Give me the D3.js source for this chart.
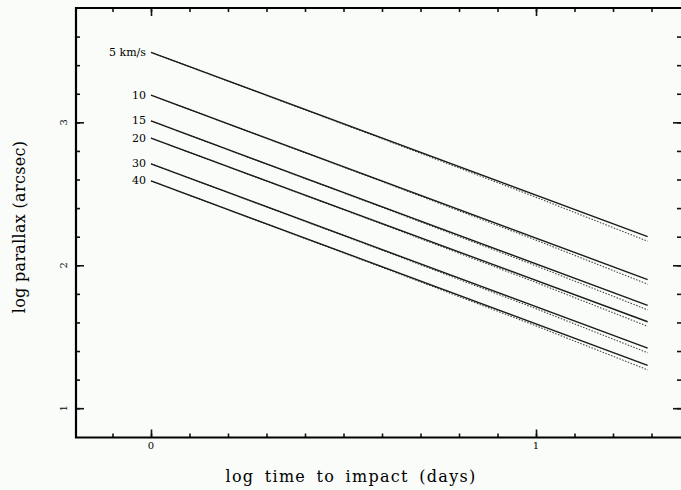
<!DOCTYPE html>
<head>
    <title>log parallax vs log time to impact</title>
    <script src="https://d3js.org/d3.v7.min.js"></script>
</head>
<style>
body {
  margin: 0;
  background: #f9fcf9;
  font-family: "DejaVu Serif", "Liberation Serif", serif;
}
</style>
<body>
    <svg></svg>
</body>

<script>

    // Data
    var speeds = ["5 km/s", "10", "15", "20", "30", "40"];
    var tStart = 0, tEnd = 1.29;
    // solid lines: log parallax at start and end
    var solidStart = [3.49, 3.19, 3.01, 2.89, 2.71, 2.59];
    var solidEnd   = [2.20, 1.90, 1.72, 1.605, 1.42, 1.30];
    // dotted companions: they sag a little below the solid ones to the right
    var dottedT    = [0, 0.6, 1.0, 1.29];
    var dottedDrop = [0, 0.004, 0.014, 0.032];
    var xMajor = [0, 1];
    var xTickLabels = ["0", "1"];
    var yMajor = [1, 2, 3];
    var yTickLabels = ["1", "2", "3"];

    // Variables
    var width = 681;
    var height = 490;

    var svg = d3.select('svg')
        .attr('width', width)
        .attr('height', height);

    var x = d3.scaleLinear().domain([-0.1948, 1.3766]).range([76, 681]);
    var y = d3.scaleLinear().domain([0.795, 3.8]).range([437.5, 8]);

    var xMinor = d3.range(-1, 14).map(function (i) { return i / 10; });
    var yMinor = d3.range(5, 19).map(function (i) { return i / 5; });

    // Minor and major ticks on every side, pointing inwards
    function drawAxis(axis, tr, minor, major) {
        var gm = svg.append('g').attr('transform', tr)
            .call(axis.tickValues(minor).tickSizeInner(-4).tickSizeOuter(0).tickFormat(''));
        var gM = svg.append('g').attr('transform', tr)
            .call(axis.tickValues(major).tickSizeInner(-8).tickSizeOuter(0).tickFormat(''));
        [gm, gM].forEach(function (g) {
            g.select('.domain').remove();
            g.selectAll('line').attr('stroke', '#111').attr('stroke-width', 1.6);
        });
    }
    drawAxis(d3.axisBottom(x), 'translate(0,437.5)', xMinor, xMajor);
    drawAxis(d3.axisTop(x), 'translate(0,8)', xMinor, xMajor);
    drawAxis(d3.axisLeft(y), 'translate(76,0)', yMinor, yMajor);
    drawAxis(d3.axisRight(y), 'translate(681,0)', yMinor, yMajor);

    // Frame
    svg.append('path')
        .attr('d', 'M681,8H76V437.5H681')
        .attr('fill', 'none')
        .attr('stroke', '#000')
        .attr('stroke-width', 2.2);

    // Tick labels
    svg.selectAll('.xlab').data(xMajor).enter().append('text')
        .attr('x', function (d) { return x(d); })
        .attr('y', 449)
        .attr('text-anchor', 'middle')
        .style('font-size', '10px')
        .text(function (d, i) { return xTickLabels[i]; });

    svg.selectAll('.ylab').data(yMajor).enter().append('text')
        .attr('transform', function (d) { return 'translate(67,' + y(d) + ')rotate(-90)'; })
        .attr('text-anchor', 'middle')
        .style('font-size', '10px')
        .text(function (d, i) { return yTickLabels[i]; });

    // Axis titles
    svg.append('text')
        .attr('x', 351).attr('y', 482)
        .attr('text-anchor', 'middle')
        .style('font-size', '16px')
        .style('letter-spacing', '1.3px')
        .style('word-spacing', '4px')
        .text('log time to impact (days)');

    svg.append('text')
        .attr('transform', 'translate(25,227)rotate(-90)')
        .attr('text-anchor', 'middle')
        .style('font-size', '16px')
        .style('letter-spacing', '0.3px')
        .text('log parallax (arcsec)');

    // Curves
    var line = d3.line()
        .x(function (d) { return x(d[0]); })
        .y(function (d) { return y(d[1]); });

    speeds.forEach(function (s, i) {
        var slope = (solidEnd[i] - solidStart[i]) / (tEnd - tStart);
        var dotted = dottedT.map(function (t, j) {
            return [t, solidStart[i] + slope * (t - tStart) - dottedDrop[j]];
        });
        svg.append('path')
            .attr('d', line(dotted))
            .attr('fill', 'none')
            .attr('stroke', '#444')
            .attr('stroke-width', 1.1)
            .attr('stroke-dasharray', '1.5,1.5');
        svg.append('path')
            .attr('d', line([[tStart, solidStart[i]], [tEnd, solidEnd[i]]]))
            .attr('fill', 'none')
            .attr('stroke', '#1a1a1a')
            .attr('stroke-width', 1.4);
        svg.append('text')
            .attr('x', x(tStart) - 5)
            .attr('y', y(solidStart[i]) + 3.5)
            .attr('text-anchor', 'end')
            .style('font-size', '11px')
            .text(s);
    });

</script>
